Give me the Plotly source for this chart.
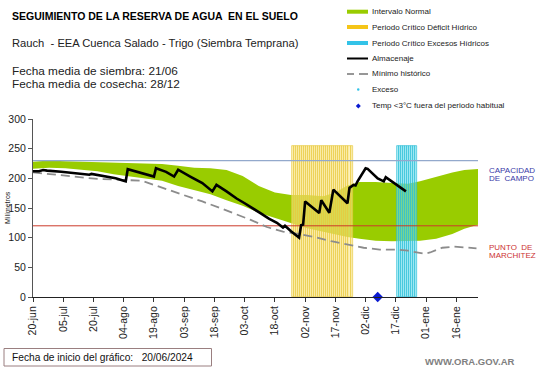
import plotly.graph_objects as go
import pandas as pd

# ---------------- data ----------------
band_dates = ["2024-06-20", "2024-06-28", "2024-07-06", "2024-07-14", "2024-07-22", "2024-07-30",
              "2024-08-07", "2024-08-15", "2024-08-23", "2024-08-31", "2024-09-08", "2024-09-16",
              "2024-09-24", "2024-10-02", "2024-10-10", "2024-10-18", "2024-10-26", "2024-11-03",
              "2024-11-11", "2024-11-17", "2024-11-23", "2024-11-29", "2024-12-07", "2024-12-15",
              "2024-12-23", "2024-12-29", "2025-01-06", "2025-01-14", "2025-01-20", "2025-01-27"]
band_upper = [228, 230, 229, 228, 227, 226, 226, 225, 224, 221, 218, 217, 214, 204, 187, 176,
              172, 172, 170, 176, 188, 194, 194, 192, 191, 195, 203, 210, 214, 216]
band_lower = [216, 218, 217, 214, 212, 207, 203, 200, 196, 187, 180, 173, 163, 154, 142, 133,
              124, 116, 110, 105, 101, 98, 95, 94, 94, 95, 98, 106, 115, 122]

min_dates = ["2024-06-20", "2024-06-28", "2024-07-06", "2024-07-14", "2024-07-22", "2024-07-30",
             "2024-08-07", "2024-08-13", "2024-08-19", "2024-08-27", "2024-09-04", "2024-09-12",
             "2024-09-20", "2024-09-28", "2024-10-06", "2024-10-14", "2024-10-22", "2024-10-30",
             "2024-11-07", "2024-11-15", "2024-11-23", "2024-12-01", "2024-12-09", "2024-12-17",
             "2024-12-23", "2024-12-27", "2024-12-31", "2025-01-03", "2025-01-09", "2025-01-15",
             "2025-01-21", "2025-01-26"]
min_values = [210, 207, 204, 201, 199, 198, 197, 196, 189, 180, 170, 161, 151, 141, 130, 118,
              110, 106, 101, 94, 88, 83, 80, 80, 78, 76, 73, 75, 83, 85, 84, 82]

stor_dates = ["2024-06-20", "2024-06-23", "2024-06-25", "2024-06-27", "2024-07-04", "2024-07-12",
              "2024-07-18", "2024-07-19", "2024-07-25", "2024-07-31", "2024-08-04", "2024-08-05",
              "2024-08-06", "2024-08-12", "2024-08-19", "2024-08-20", "2024-08-25", "2024-08-29",
              "2024-08-31", "2024-09-06", "2024-09-12", "2024-09-17", "2024-09-19", "2024-09-24",
              "2024-09-29", "2024-10-03", "2024-10-07", "2024-10-11", "2024-10-15", "2024-10-19",
              "2024-10-22", "2024-10-23", "2024-10-26", "2024-10-30", "2024-10-31", "2024-11-01",
              "2024-11-02", "2024-11-09", "2024-11-10", "2024-11-14", "2024-11-16", "2024-11-23",
              "2024-11-24", "2024-11-26", "2024-11-27", "2024-11-28", "2024-12-02", "2024-12-03",
              "2024-12-08", "2024-12-11", "2024-12-12", "2024-12-22"]
stor_values = [212, 212, 214, 213, 211, 208, 206, 207.5, 204, 200, 196, 195, 215.5, 210, 203, 217,
               211, 203, 214.5, 203, 192, 178, 189, 178, 166, 158, 150, 141, 132, 125, 117, 120,
               111, 100, 121, 122, 161, 141.5, 163, 142, 181, 158, 184, 189, 188, 195, 217, 216,
               200, 195, 202, 178]

capacity_mm = 230
wilting_mm = 120
period_top = 255
deficit_start, deficit_end = "2024-10-27", "2024-11-25"
excess_start, excess_end = "2024-12-18", "2024-12-27"
cold_dates = ["2024-12-08"]
cold_values = [0]

tick_dates = ["2024-06-20", "2024-07-05", "2024-07-20", "2024-08-04", "2024-08-19", "2024-09-03",
              "2024-09-18", "2024-10-03", "2024-10-18", "2024-11-02", "2024-11-17", "2024-12-02",
              "2024-12-17", "2025-01-01", "2025-01-16"]
tick_text = ["20-jun", "05-jul", "20-jul", "04-ago", "19-ago", "03-sep", "18-sep", "03-oct",
             "18-oct", "02-nov", "17-nov", "02-dic", "17-dic", "01-ene", "16-ene"]
y_ticks = [0, 50, 100, 150, 200, 250, 300]

x_start, x_end = "2024-06-20", "2025-01-26 18:00"

FONT = "Liberation Sans, Arial, sans-serif"
DAY_MS = 86400000

deficit_days = pd.date_range(deficit_start, deficit_end, freq="D")
excess_days = pd.date_range(excess_start, excess_end, freq="D")

fig = go.Figure()

# layer 1: normal interval band
fig.add_trace(go.Scatter(x=band_dates, y=band_lower, mode="lines", line=dict(width=0),
                         hoverinfo="skip", showlegend=False))
fig.add_trace(go.Scatter(x=band_dates, y=band_upper, mode="lines", line=dict(width=0),
                         fill="tonexty", fillcolor="#99cc00", showlegend=False))

# layer 2: critical periods (striped bars)
fig.add_trace(go.Bar(x=deficit_days, y=[period_top] * len(deficit_days), width=DAY_MS,
                     marker=dict(color="rgba(252,232,140,0.6)",
                                 line=dict(color="rgba(232,200,60,0.95)", width=0.7)),
                     yaxis="y2", showlegend=False))
fig.add_trace(go.Bar(x=excess_days, y=[period_top] * len(excess_days), width=DAY_MS,
                     marker=dict(color="rgba(120,225,240,0.55)",
                                 line=dict(color="rgba(40,190,215,0.95)", width=0.7)),
                     yaxis="y2", showlegend=False))

# layer 3: lines
fig.add_trace(go.Scatter(x=[x_start, x_end], y=[capacity_mm, capacity_mm], mode="lines",
                         line=dict(color="#93a9cc", width=1.3), yaxis="y3", showlegend=False))
fig.add_trace(go.Scatter(x=[x_start, x_end], y=[wilting_mm, wilting_mm], mode="lines",
                         line=dict(color="#cc3a2a", width=1), yaxis="y3", showlegend=False))
fig.add_trace(go.Scatter(x=min_dates, y=min_values, mode="lines",
                         line=dict(color="#8c8c8c", width=1.8, dash="9px,5px"), yaxis="y3",
                         showlegend=False))
fig.add_trace(go.Scatter(x=stor_dates, y=stor_values, mode="lines",
                         line=dict(color="#000000", width=2.6), yaxis="y3", showlegend=False))
fig.add_trace(go.Scatter(x=cold_dates, y=cold_values, mode="markers",
                         marker=dict(symbol="diamond", color="#0a1ad0", size=8),
                         cliponaxis=False, yaxis="y3", showlegend=False))

# ---------------- layout ----------------
L, R, T, B = 33, 63, 119, 71
W, H = 541, 368
PW, PH = W - L - R, H - T - B


def px(x):
    return (x - L) / PW


def py(y):
    return (H - B - y) / PH


fig.update_layout(
    width=W, height=H, margin=dict(l=L, r=R, t=T, b=B),
    paper_bgcolor="white", plot_bgcolor="white", barmode="overlay", bargap=0,
    font=dict(family=FONT, color="#222"),
    xaxis=dict(type="date", range=[x_start, x_end], tickvals=tick_dates, ticktext=tick_text,
               tickangle=-90, ticks="outside", ticklen=4, tickcolor="#333",
               showline=True, linecolor="#222", linewidth=1, showgrid=False, zeroline=False,
               automargin=False,
               tickfont=dict(size=10.5, color="#222", family=FONT)),
    yaxis=dict(range=[0, 300], tickvals=y_ticks, ticks="outside", ticklen=4, tickcolor="#555",
               showline=True, linecolor="#555", linewidth=1, showgrid=False, zeroline=False,
               automargin=False,
               tickfont=dict(size=10.5, color="#222", family=FONT)),
    yaxis2=dict(range=[0, 300], overlaying="y", visible=False),
    yaxis3=dict(range=[0, 300], overlaying="y", visible=False),
)

ann = []


def text(x, y, s, size, color="#222", bold=False, xanchor="left", angle=0):
    if bold:
        s = "<b>" + s + "</b>"
    ann.append(dict(x=px(x), y=py(y), xref="paper", yref="paper", text=s, showarrow=False,
                    xanchor=xanchor, yanchor="middle", textangle=angle,
                    font=dict(size=size, color=color, family=FONT)))


text(10, 16, "SEGUIMIENTO DE LA RESERVA DE AGUA  EN EL SUELO", 10.5, "#000", bold=True)
text(10, 43, "Rauch  - EEA Cuenca Salado - Trigo (Siembra Temprana)", 11.2, "#222")
text(10, 71, "Fecha media de siembra: 21/06", 11.8, "#222")
text(10, 84, "Fecha media de cosecha: 28/12", 11.8, "#222")

text(7, 208, "Milímetros", 7, "#222", angle=-90, xanchor="center")

text(487, 170, "CAPACIDAD", 8, "#3a3aa8")
text(487, 178.5, "DE  CAMPO", 8, "#3a3aa8")
text(487, 247, "PUNTO  DE", 8, "#cc3333")
text(487, 255.5, "MARCHITEZ", 8, "#cc3333")

text(10, 357.5, "Fecha de inicio del gráfico:   20/06/2024", 10.2, "#111")
text(517, 361, "WWW.ORA.GOV.AR", 9.5, "#808080", bold=True, xanchor="right")

# manual legend
legend_rows = [11.7, 27, 43, 58.5, 74, 89.5, 106]
legend_labels = ["Intervalo Normal", "Periodo Crítico Déficit Hídrico",
                 "Periodo Crítico Excesos Hídricos", "Almacenaje", "Mínimo histórico",
                 "Exceso", "Temp <3°C fuera del periodo habitual"]
for yy, lab in zip(legend_rows, legend_labels):
    text(370, yy, lab, 8, "#222")

shapes = []


def seg(y, color, width, dash="solid", x0=347, x1=368):
    shapes.append(dict(type="line", xref="paper", yref="paper", x0=px(x0), x1=px(x1),
                       y0=py(y), y1=py(y), line=dict(color=color, width=width, dash=dash)))


seg(legend_rows[0], "#99cc00", 4)
seg(legend_rows[1], "#f5c518", 4)
seg(legend_rows[2], "#33c3e8", 4)
seg(legend_rows[3], "#000000", 2)
seg(legend_rows[4], "#8c8c8c", 1.8, x0=347, x1=354)
seg(legend_rows[4], "#8c8c8c", 1.8, x0=359, x1=368)
shapes.append(dict(type="circle", xref="paper", yref="paper",
                   x0=px(357), x1=px(359.5), y0=py(legend_rows[5] - 1.2), y1=py(legend_rows[5] + 1.2),
                   fillcolor="#33c3e8", line=dict(width=0)))
shapes.append(dict(type="path", xref="paper", yref="paper",
                   path="M {a},{b} L {c},{d} L {a},{e} L {f},{d} Z".format(
                       a=px(358.3), b=py(legend_rows[6] - 2.6), c=px(360.8), d=py(legend_rows[6]),
                       e=py(legend_rows[6] + 2.6), f=px(355.8)),
                   fillcolor="#0a1ad0", line=dict(width=0)))

# footer box
shapes.append(dict(type="rect", xref="paper", yref="paper", x0=px(4), x1=px(211.5),
                   y0=py(348.5), y1=py(366), line=dict(color="#9a7f80", width=1),
                   fillcolor="rgba(0,0,0,0)"))

fig.update_layout(annotations=ann, shapes=shapes)

fig.write_html("out.html", config={"displayModeBar": False},
               post_script="document.body.style.margin='0';document.body.style.padding='0';")
